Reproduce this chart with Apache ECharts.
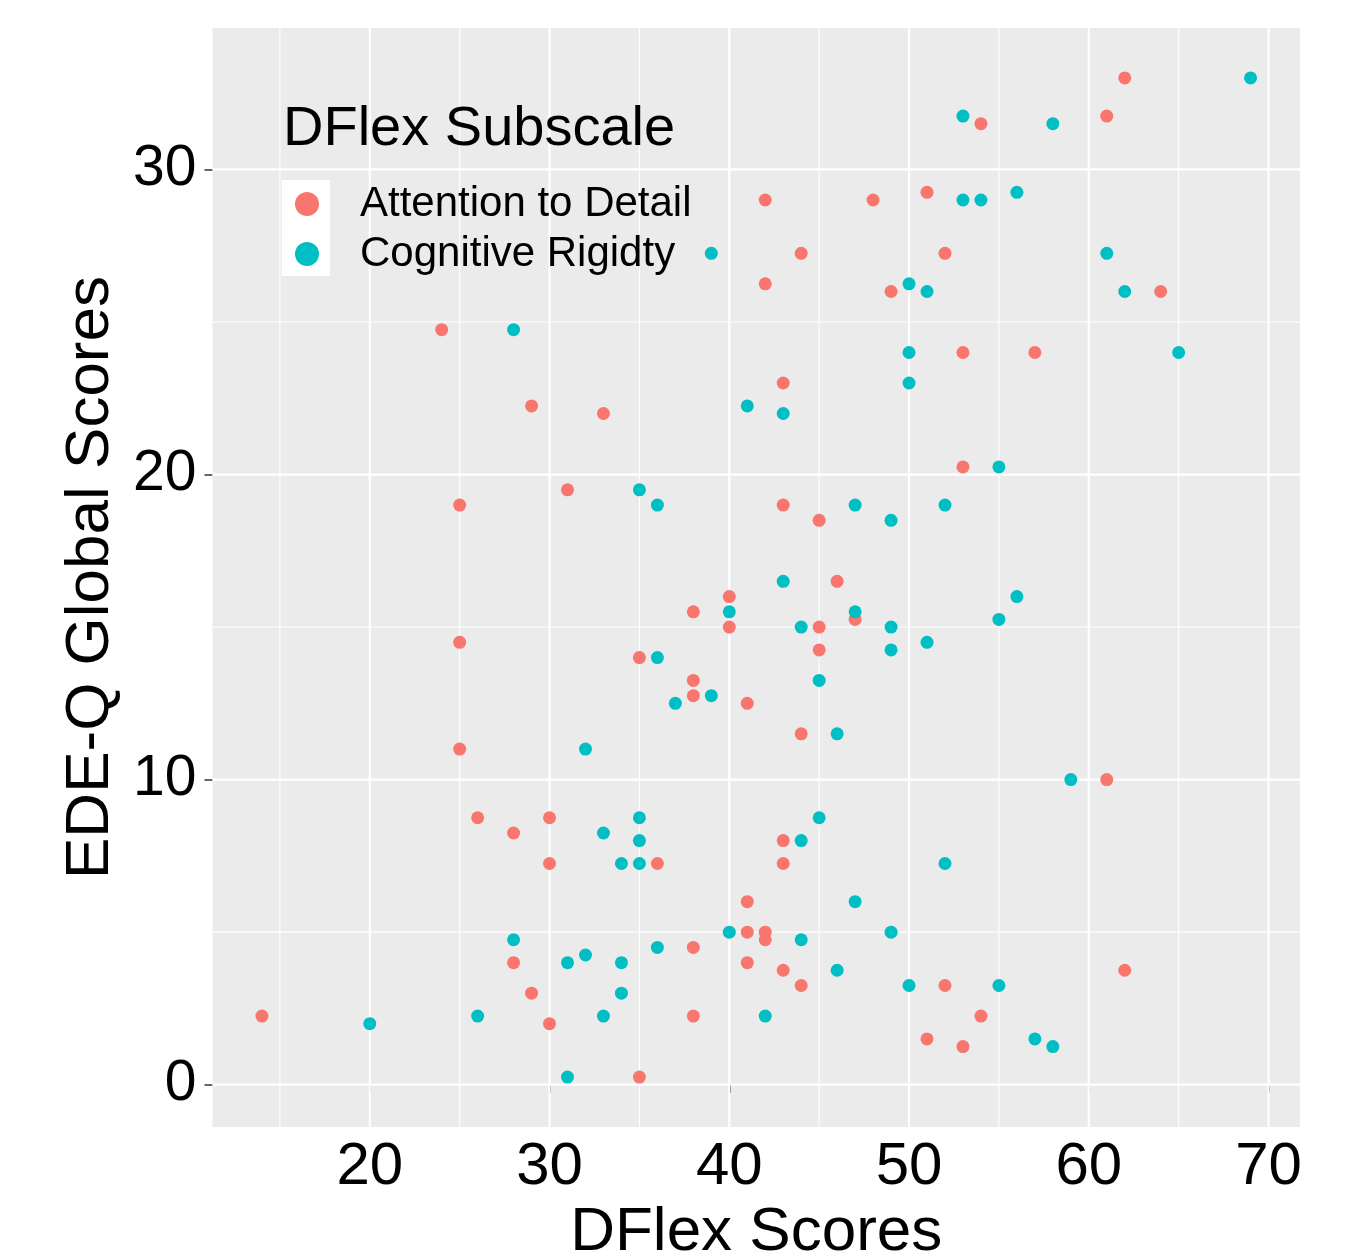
<!DOCTYPE html>
<html>
<head>
<meta charset="utf-8">
<script src="https://cdn.jsdelivr.net/npm/echarts@6/dist/echarts.min.js"></script>
<style>
  html, body { margin: 0; padding: 0; background: #fff; }
  #chart { width: 1370px; height: 1257px; }
</style>
</head>
<body>
<div id="chart"></div>
<script>
// Series values: [DFlex score, EDE-Q global score]
const attentionToDetail = [
  [62, 33], [54, 31.5], [61, 31.75], [42, 29], [48, 29], [51, 29.25], [44, 27.25], [52, 27.25],
  [42, 26.25], [49, 26], [64, 26], [24, 24.75], [53, 24], [57, 24], [43, 23], [29, 22.25],
  [33, 22], [53, 20.25], [31, 19.5], [25, 19], [43, 19], [45, 18.5], [46, 16.5], [40, 16],
  [38, 15.5], [47, 15.25], [40, 15], [45, 15], [25, 14.5], [45, 14.25], [35, 14], [38, 13.25],
  [38, 12.75], [41, 12.5], [44, 11.5], [25, 11], [61, 10], [26, 8.75], [30, 8.75], [28, 8.25],
  [43, 8], [30, 7.25], [36, 7.25], [43, 7.25], [41, 6], [41, 5], [42, 5], [42, 4.75],
  [38, 4.5], [28, 4], [41, 4], [43, 3.75], [62, 3.75], [29, 3], [44, 3.25], [52, 3.25],
  [14, 2.25], [38, 2.25], [54, 2.25], [30, 2], [51, 1.5], [53, 1.25], [35, 0.25]
]
const cognitiveRigidity = [
  [69, 33], [53, 31.75], [58, 31.5], [53, 29], [54, 29], [56, 29.25], [39, 27.25], [61, 27.25],
  [50, 26.25], [51, 26], [62, 26], [28, 24.75], [50, 24], [65, 24], [50, 23], [41, 22.25],
  [43, 22], [55, 20.25], [35, 19.5], [36, 19], [47, 19], [52, 19], [49, 18.5], [43, 16.5],
  [56, 16], [40, 15.5], [47, 15.5], [55, 15.25], [44, 15], [49, 15], [51, 14.5], [49, 14.25],
  [36, 14], [45, 13.25], [39, 12.75], [37, 12.5], [46, 11.5], [32, 11], [59, 10], [35, 8.75],
  [45, 8.75], [33, 8.25], [35, 8], [44, 8], [34, 7.25], [35, 7.25], [52, 7.25], [47, 6],
  [40, 5], [49, 5], [28, 4.75], [44, 4.75], [36, 4.5], [32, 4.25], [31, 4], [34, 4],
  [46, 3.75], [34, 3], [50, 3.25], [55, 3.25], [20, 2], [26, 2.25], [33, 2.25], [42, 2.25],
  [57, 1.5], [58, 1.25], [31, 0.25]
]
const seriesNames = ['Attention to Detail', 'Cognitive Rigidty']

// Axis ticks (major labelled, minor grid only)
const xMajorTicks = [20, 30, 40, 50, 60, 70]
const xMinorTicks = [15, 25, 35, 45, 55, 65]
const yMajorTicks = [0, 10, 20, 30]
const yMinorTicks = [5, 15, 25]

// ggplot-style expanded ranges
const X_MIN = 11.25
const X_MAX = 71.75
const Y_MIN = -1.3875
const Y_MAX = 34.6375

// Colors
const COLOR_RED = '#F8766D'
const COLOR_CYAN = '#00BFC4'
const COLOR_PANEL = '#EBEBEB'
const FONT = '"Liberation Sans", Arial, Helvetica, sans-serif'

const chart = echarts.init(document.getElementById('chart'), null, { renderer: 'canvas' })

const vGrid = xMajorTicks.map((v) => [v, 0, 1]).concat(xMinorTicks.map((v) => [v, 0, 0]))
const hGrid = yMajorTicks.map((v) => [X_MIN, v, 1]).concat(yMinorTicks.map((v) => [X_MIN, v, 0]))

chart.setOption({
  animation: false,
  backgroundColor: '#fff',
  textStyle: { fontFamily: FONT },
  title: {
    text: 'DFlex Subscale',
    left: 283,
    top: 102,
    padding: 0,
    textStyle: { fontFamily: FONT, fontSize: 56, fontWeight: 'normal', color: '#000' },
  },
  legend: {
    orient: 'vertical',
    left: 295,
    top: 183,
    padding: 0,
    itemWidth: 96,
    itemHeight: 24,
    itemGap: 8,
    icon: 'circle',
    z: 10,
    data: seriesNames,
    textStyle: { fontFamily: FONT, fontSize: 42, color: '#000' },
  },
  graphic: [
    {
      type: 'rect',
      z: 5,
      shape: { x: 282, y: 180, width: 48, height: 96 },
      style: { fill: '#fff' },
    },
  ],
  grid: {
    left: 212.5,
    right: 70,
    top: 28,
    bottom: 130,
    show: true,
    backgroundColor: COLOR_PANEL,
    borderWidth: 0,
    containLabel: false,
    outerBoundsMode: 'none',
  },
  xAxis: {
    type: 'value',
    min: X_MIN,
    max: X_MAX,
    name: 'DFlex Scores',
    nameLocation: 'middle',
    nameGap: 66,
    nameTextStyle: { fontFamily: FONT, fontSize: 62, color: '#000' },
    axisLine: { show: false },
    axisTick: {
      show: true,
      length: 8,
      customValues: xMajorTicks,
      lineStyle: { color: '#333', width: 1.5 },
    },
    axisLabel: {
      customValues: xMajorTicks,
      margin: 10,
      fontFamily: FONT,
      fontSize: 60,
      color: '#000',
    },
    splitLine: { show: false },
  },
  yAxis: {
    type: 'value',
    min: Y_MIN,
    max: Y_MAX,
    name: 'EDE-Q Global Scores',
    nameLocation: 'middle',
    nameRotate: 90,
    nameGap: 90,
    nameTextStyle: { fontFamily: FONT, fontSize: 62, color: '#000' },
    axisLine: { show: false },
    axisTick: {
      show: true,
      length: 8,
      customValues: yMajorTicks,
      lineStyle: { color: '#333', width: 1.5 },
    },
    axisLabel: {
      customValues: yMajorTicks,
      margin: 16,
      fontFamily: FONT,
      fontSize: 57,
      color: '#000',
    },
    splitLine: { show: false },
  },
  series: [
    // panel grid lines (vertical)
    {
      type: 'custom',
      silent: true,
      z: 1,
      data: vGrid,
      encode: { x: 0, y: 1 },
      renderItem: (params, api) => {
        const x = api.coord([api.value(0), api.value(1)])[0]
        const cs = params.coordSys
        return {
          type: 'line',
          shape: { x1: x, y1: cs.y, x2: x, y2: cs.y + cs.height },
          style: { stroke: '#fff', lineWidth: api.value(2) ? 2.2 : 1.1 },
        }
      },
    },
    // panel grid lines (horizontal)
    {
      type: 'custom',
      silent: true,
      z: 1,
      data: hGrid,
      encode: { x: 0, y: 1 },
      renderItem: (params, api) => {
        const y = api.coord([api.value(0), api.value(1)])[1]
        const cs = params.coordSys
        return {
          type: 'line',
          shape: { x1: cs.x, y1: y, x2: cs.x + cs.width, y2: y },
          style: { stroke: '#fff', lineWidth: api.value(2) ? 2.2 : 1.1 },
        }
      },
    },
    {
      name: seriesNames[0],
      type: 'scatter',
      z: 3,
      symbol: 'circle',
      symbolSize: 13,
      itemStyle: { color: COLOR_RED, opacity: 1 },
      data: attentionToDetail,
    },
    {
      name: seriesNames[1],
      type: 'scatter',
      z: 3,
      symbol: 'circle',
      symbolSize: 13,
      itemStyle: { color: COLOR_CYAN, opacity: 1 },
      data: cognitiveRigidity,
    },
  ],
})
</script>
</body>
</html>
